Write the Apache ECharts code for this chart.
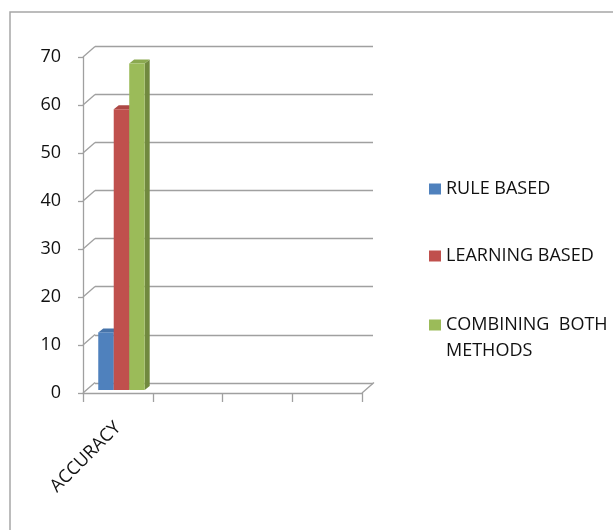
<!DOCTYPE html>
<html>
<head>
<meta charset="utf-8">
<script src="https://cdn.jsdelivr.net/npm/echarts@6/dist/echarts.min.js"></script>
<style>
html,body{margin:0;padding:0;background:#fff;}
#chart{width:613px;height:530px;}
</style>
</head>
<body>
<div id="chart"></div>
<script>
// ---- data ----
const categories = ['ACCURACY', '', '', ''];
const seriesNames = ['RULE BASED', 'LEARNING BASED', 'COMBINING BOTH METHODS'];
const ruleBased = [12];
const learningBased = [58.5];
const combiningBoth = [68];
const yTicks = [0, 10, 20, 30, 40, 50, 60, 70];

// ---- styles ----
const FONT = 'Open Sans';
const FONT_SIZE = 18;
const faceColors = ['#4F81BD', '#C0504D', '#9BBB59'];
const sideColors = ['#385D8A', '#8C3836', '#71893F'];
const topColors = ['#4774AA', '#AD4845', '#8BA950'];
const GRID_COLOR = '#a0a0a0';
const TEXT_COLOR = '#111';
const DEPTH = [12, -10.5];     // back-wall offset
const BAR_DEPTH = [5, -4];     // bar thickness
const BAR_POS = [3.6, -3];     // bar offset from front plane

function barRenderer(idx) {
  return function (params, api) {
    const c = api.value(0), v = api.value(1);
    const base = api.coord([c, 0]);
    const top = api.coord([c, v]);
    const band = api.size([1, 0])[0];
    const bw = band * 0.222;
    const x0 = base[0] + BAR_POS[0] - 1.5 * bw + idx * bw;
    const x1 = x0 + bw;
    const yb = base[1] + BAR_POS[1];
    const yt = top[1] + BAR_POS[1];
    const dx = BAR_DEPTH[0], dy = BAR_DEPTH[1];
    return {
      type: 'group',
      children: [
        {type: 'polygon', shape: {points: [[x1, yt], [x1, yb], [x1 + dx, yb + dy], [x1 + dx, yt + dy]]},
         style: {fill: sideColors[idx]}},
        {type: 'polygon', shape: {points: [[x0, yt], [x1, yt], [x1 + dx, yt + dy], [x0 + dx, yt + dy]]},
         style: {fill: topColors[idx]}},
        {type: 'rect', shape: {x: x0, y: yt, width: bw, height: yb - yt},
         style: {fill: faceColors[idx]}}
      ]
    };
  };
}

const connectorData = yTicks.map(v => [0, v, -1]).concat([[categories.length - 1, 0, 1]]);

const chart = echarts.init(document.getElementById('chart'), null, {renderer: 'canvas'});
chart.setOption({
  animation: false,
  backgroundColor: '#fff',
  graphic: [{
    type: 'rect', shape: {x: 10, y: 12, width: 700, height: 600},
    style: {fill: 'none', stroke: '#a6a6a6', lineWidth: 1.5}, z: -10
  }],
  grid: [
    {left: 83, top: 57, width: 279, height: 336},
    {left: 95, top: 46, width: 278, height: 337}
  ],
  xAxis: [
    {type: 'category', gridIndex: 0, data: categories, boundaryGap: true,
     axisLine: {lineStyle: {color: GRID_COLOR, width: 1.3}},
     axisTick: {show: true, length: 9, alignWithLabel: false, lineStyle: {color: GRID_COLOR, width: 1.3}},
     axisLabel: {rotate: 45, margin: 32, interval: 0, color: TEXT_COLOR, fontFamily: FONT, fontSize: FONT_SIZE},
     splitLine: {show: false}},
    {type: 'category', gridIndex: 1, data: categories, show: false}
  ],
  yAxis: [
    {type: 'value', gridIndex: 0, min: 0, max: 70, interval: 10,
     axisLine: {show: true, lineStyle: {color: GRID_COLOR, width: 1.3}},
     axisTick: {show: true, length: 5, lineStyle: {color: GRID_COLOR, width: 1.3}},
     axisLabel: {margin: 22, color: TEXT_COLOR, fontFamily: FONT, fontSize: FONT_SIZE},
     splitLine: {show: false}},
    {type: 'value', gridIndex: 1, min: 0, max: 70, interval: 10,
     axisLine: {show: false}, axisTick: {show: false}, axisLabel: {show: false},
     splitLine: {show: true, lineStyle: {color: GRID_COLOR, width: 1.3}}}
  ],
  legend: [
    {orient: 'vertical', left: 424, top: 171, itemWidth: 12, itemHeight: 11, itemGap: 41,
     icon: 'rect', data: [seriesNames[0], seriesNames[1]],
     textStyle: {fontFamily: FONT, fontSize: FONT_SIZE, color: TEXT_COLOR, lineHeight: 26}},
    {orient: 'vertical', left: 424, top: 281, itemWidth: 12, itemHeight: 11,
     icon: 'rect', data: [seriesNames[2]],
     formatter: () => ' \nCOMBINING  BOTH\nMETHODS',
     textStyle: {fontFamily: FONT, fontSize: FONT_SIZE, color: TEXT_COLOR, lineHeight: 26}}
  ],
  series: [
    {type: 'custom', name: 'connectors', xAxisIndex: 0, yAxisIndex: 0, silent: true, z: 1,
     data: connectorData,
     renderItem: function (params, api) {
       const p = api.coord([api.value(0), api.value(1)]);
       const band = api.size([1, 0])[0];
       const x = p[0] + api.value(2) * band / 2;
       return {type: 'line', shape: {x1: x, y1: p[1], x2: x + DEPTH[0], y2: p[1] + DEPTH[1]},
               style: {stroke: GRID_COLOR, lineWidth: 1.3}};
     }},
    {type: 'custom', name: seriesNames[0], xAxisIndex: 0, yAxisIndex: 0, z: 5,
     itemStyle: {color: faceColors[0]}, renderItem: barRenderer(0),
     data: ruleBased.map((v, i) => [i, v])},
    {type: 'custom', name: seriesNames[1], xAxisIndex: 0, yAxisIndex: 0, z: 5,
     itemStyle: {color: faceColors[1]}, renderItem: barRenderer(1),
     data: learningBased.map((v, i) => [i, v])},
    {type: 'custom', name: seriesNames[2], xAxisIndex: 0, yAxisIndex: 0, z: 5,
     itemStyle: {color: faceColors[2]}, renderItem: barRenderer(2),
     data: combiningBoth.map((v, i) => [i, v])}
  ]
});
</script>
</body>
</html>
